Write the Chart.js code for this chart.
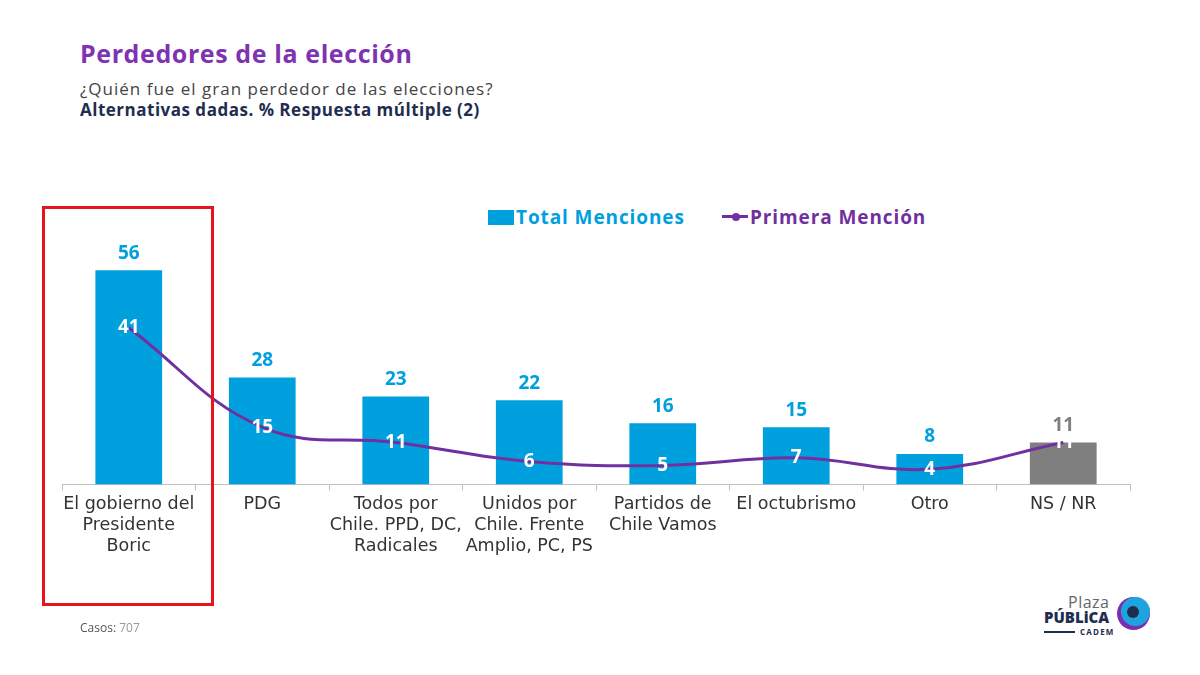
<!DOCTYPE html>
<html>
<head>
<meta charset="utf-8">
<script src="https://cdn.jsdelivr.net/npm/chart.js@4"></script>
<style>
  html,body{margin:0;padding:0;background:#fff;width:1200px;height:675px;overflow:hidden;font-family:"Open Sans",sans-serif;}
  .abs{position:absolute;white-space:nowrap;}
  #title{left:80px;top:36px;font-size:25px;font-weight:700;color:#8033b0;letter-spacing:0.6px;}
  #sub1{left:80px;top:77px;font-size:17px;color:#444;letter-spacing:1px;}
  #sub2{left:80px;top:98px;font-size:17px;font-weight:700;color:#1f2d50;letter-spacing:0.5px;}
  #wrap{position:absolute;left:0;top:230px;width:1200px;height:331px;}
  .leg{top:204px;font-size:19px;font-weight:700;letter-spacing:0.9px;}
  #box{position:absolute;left:42px;top:206px;width:166px;height:394px;border:3px solid #e8141b;}
  #casos{left:80px;top:619px;font-size:12px;color:#555;}
  #logo1{left:1068px;top:591px;font-size:16px;color:#666;letter-spacing:0.5px;}
  #logo2{left:1044px;top:607px;font-size:15px;font-weight:800;color:#1f2d50;}
  #logo3{left:1080px;top:626px;font-size:8px;font-weight:700;color:#1f2d50;letter-spacing:1.2px;}
  #logoline{position:absolute;left:1044px;top:631px;width:31px;height:2px;background:#1f2d50;}
  #c1{position:absolute;left:1117px;top:597px;width:33px;height:33px;border-radius:50%;background:#7a2fb0;}
  #c2{position:absolute;left:1121px;top:597px;width:29px;height:29px;border-radius:50%;background:#1fa3e0;}
  #c3{position:absolute;left:1127px;top:606px;width:12px;height:12px;border-radius:50%;background:#1f2d50;}
</style>
</head>
<body>
<div id="title" class="abs">Perdedores de la elección</div>
<div id="sub1" class="abs">¿Quién fue el gran perdedor de las elecciones?</div>
<div id="sub2" class="abs">Alternativas dadas. % Respuesta múltiple (2)</div>

<div class="abs leg" style="left:488px;color:#00a0df;"><span style="display:inline-block;width:26px;height:15px;background:#00a0df;vertical-align:-1px;margin-right:2px;"></span>Total Menciones</div>
<div class="abs leg" style="left:722px;color:#7030a0;"><span style="display:inline-block;position:relative;width:26px;height:3px;background:#7030a0;vertical-align:6px;margin-right:2px;"><span style="position:absolute;left:10px;top:-2.5px;width:8px;height:8px;border-radius:50%;background:#7030a0;"></span></span>Primera Mención</div>

<div id="wrap"><canvas id="chart"></canvas></div>
<div id="box"></div>

<div id="casos" class="abs">Casos: <span style="color:#999">707</span></div>
<div id="logo1" class="abs">Plaza</div>
<div id="logo2" class="abs">PÚBLiCA</div>
<div id="logoline"></div>
<div id="logo3" class="abs">CADEM</div>
<div id="c1"></div><div id="c2"></div><div id="c3"></div>

<script>
const categories = [
  ["El gobierno del","Presidente","Boric"],
  ["PDG"],
  ["Todos por","Chile. PPD, DC,","Radicales"],
  ["Unidos por","Chile. Frente","Amplio, PC, PS"],
  ["Partidos de","Chile Vamos"],
  ["El octubrismo"],
  ["Otro"],
  ["NS / NR"]
];
const totalMenciones = [56, 28, 23, 22, 16, 15, 8, 11];
const primeraMencion = [41, 15, 11, 6, 5, 7, 4, 11];
const barColors = ['#00a0df','#00a0df','#00a0df','#00a0df','#00a0df','#00a0df','#00a0df','#7f7f7f'];
const barLabelColors = ['#00a0df','#00a0df','#00a0df','#00a0df','#00a0df','#00a0df','#00a0df','#7f7f7f'];

const FONT = '"Open Sans", sans-serif';

const labelsPlugin = {
  id: 'valueLabels',
  afterDatasetsDraw(chart) {
    const ctx = chart.ctx;
    ctx.save();
    ctx.textAlign = 'center';
    ctx.textBaseline = 'middle';
    ctx.font = '700 19px ' + FONT;
    const barMeta = chart.getDatasetMeta(0);
    barMeta.data.forEach((el, i) => {
      ctx.fillStyle = barLabelColors[i];
      ctx.fillText(String(totalMenciones[i]), el.x, el.y - 17);
    });
    const lineMeta = chart.getDatasetMeta(1);
    lineMeta.data.forEach((el, i) => {
      ctx.fillStyle = '#ffffff';
      ctx.fillText(String(primeraMencion[i]), el.x, el.y);
    });
    ctx.restore();
  }
};

new Chart(document.getElementById('chart'), {
  type: 'bar',
  data: {
    labels: categories,
    datasets: [
      {
        type: 'bar',
        label: 'Total Menciones',
        data: totalMenciones,
        backgroundColor: barColors,
        barPercentage: 0.5,
        categoryPercentage: 1.0,
        order: 2
      },
      {
        type: 'line',
        label: 'Primera Mención',
        data: primeraMencion,
        borderColor: '#7030a0',
        backgroundColor: '#7030a0',
        borderWidth: 3,
        pointRadius: 0,
        tension: 0.4,
        order: 1
      }
    ]
  },
  options: {
    responsive: true,
    maintainAspectRatio: false,
    animation: false,
    layout: { padding: { left: 62, right: 70, top: 25, bottom: 0 } },
    plugins: { legend: { display: false }, tooltip: { enabled: false } },
    scales: {
      x: {
        offset: true,
        grid: { display: true, offset: true, drawOnChartArea: false, drawTicks: true, tickLength: 6, color: '#bfbfbf' },
        border: { display: true, color: '#bfbfbf', width: 1 },
        ticks: { color: '#333', font: { family: '"DejaVu Sans", sans-serif', size: 17.5, lineHeight: 1.19 }, padding: 4, maxRotation: 0, autoSkip: false }
      },
      y: {
        display: false,
        min: 0,
        max: 60
      }
    }
  },
  plugins: [labelsPlugin]
});
</script>
</body>
</html>
